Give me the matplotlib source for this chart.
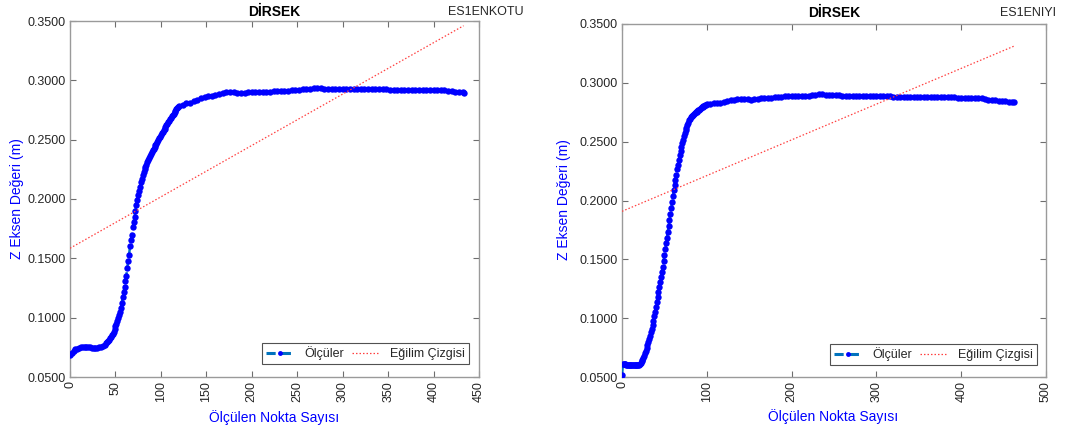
import numpy as np
import matplotlib
matplotlib.use("Agg")
import matplotlib.pyplot as plt
from matplotlib.lines import Line2D

plt.rcParams['font.family'] = ['Liberation Sans', 'DejaVu Sans']

# ---------------- data ----------------
left_x = list(range(0, 40, 2)) + list(range(40, 121)) + list(range(124, 433, 4)) + [433]
left_y = [
    # 0..38 step 2
    0.0685, 0.0705, 0.0720, 0.0732, 0.0740, 0.0746, 0.0750, 0.0752, 0.0753, 0.0752,
    0.0751, 0.0749, 0.0747, 0.0746, 0.0746, 0.0747, 0.0750, 0.0755, 0.0762, 0.0772,
    # 40..120 step 1
    0.0785, 0.0792, 0.0800, 0.0812, 0.0825, 0.0838, 0.0852, 0.0866, 0.0880, 0.0905,
    0.0928, 0.0950, 0.0975, 0.0998, 0.1020, 0.1045, 0.1085, 0.1125, 0.1170, 0.1215,
    0.1260, 0.1305, 0.1355, 0.1420, 0.1480, 0.1530, 0.1600, 0.1655, 0.1700, 0.1760,
    0.1810, 0.1850, 0.1900, 0.1950, 0.1990, 0.2030, 0.2070, 0.2105, 0.2140, 0.2170,
    0.2200, 0.2225, 0.2250, 0.2270, 0.2290, 0.2310, 0.2328, 0.2345, 0.2362, 0.2378,
    0.2395, 0.2410, 0.2425, 0.2438, 0.2452, 0.2466, 0.2480, 0.2495, 0.2510, 0.2524,
    0.2538, 0.2552, 0.2566, 0.2580, 0.2593, 0.2606, 0.2620, 0.2634, 0.2648, 0.2660,
    0.2672, 0.2684, 0.2696, 0.2708, 0.2720, 0.2730, 0.2742, 0.2755, 0.2765, 0.2775,
    0.2782,
    # 124..432 step 4
    0.2795, 0.2806, 0.2813, 0.2822, 0.2835, 0.2850, 0.2858, 0.2865, 0.2872, 0.2878,
    0.2885, 0.2892, 0.2898, 0.2901, 0.2899, 0.2897, 0.2897, 0.2897, 0.2898, 0.2898,
    0.2899, 0.2899, 0.2900, 0.2902, 0.2905, 0.2907, 0.2909, 0.2911, 0.2912, 0.2913,
    0.2916, 0.2920, 0.2922, 0.2923, 0.2925, 0.2929, 0.2933, 0.2934, 0.2932, 0.2930,
    0.2929, 0.2929, 0.2928, 0.2927, 0.2927, 0.2926, 0.2926, 0.2927, 0.2927, 0.2927,
    0.2928, 0.2928, 0.2927, 0.2926, 0.2926, 0.2925, 0.2923, 0.2922, 0.2921, 0.2921,
    0.2920, 0.2920, 0.2919, 0.2919, 0.2920, 0.2921, 0.2921, 0.2919, 0.2918, 0.2918,
    0.2919, 0.2918, 0.2916, 0.2913, 0.2908, 0.2903, 0.2900, 0.2898,
    # 433
    0.2897,
]
left_trend_x = [0, 433]
left_trend_y = [0.1585, 0.3460]

right_x = list(range(0, 101)) + list(range(104, 461, 4)) + [462]
right_y = [
    # 0..19
    0.0515, 0.0613, 0.0612, 0.0610, 0.0607, 0.0605, 0.0603, 0.0602, 0.0601, 0.0600,
    0.0599, 0.0598, 0.0598, 0.0598, 0.0598, 0.0598, 0.0599, 0.0600, 0.0601, 0.0603,
    # 20..100
    0.0605, 0.0612, 0.0620, 0.0632, 0.0645, 0.0662, 0.0680, 0.0700, 0.0722, 0.0745,
    0.0770, 0.0797, 0.0825, 0.0852, 0.0880, 0.0910, 0.0943, 0.0978, 0.1015, 0.1055,
    0.1095, 0.1138, 0.1180, 0.1222, 0.1265, 0.1308, 0.1350, 0.1393, 0.1435, 0.1485,
    0.1535, 0.1585, 0.1635, 0.1685, 0.1735, 0.1785, 0.1835, 0.1885, 0.1935, 0.1985,
    0.2040, 0.2085, 0.2130, 0.2175, 0.2220, 0.2265, 0.2305, 0.2345, 0.2385, 0.2420,
    0.2455, 0.2485, 0.2515, 0.2545, 0.2572, 0.2598, 0.2620, 0.2642, 0.2662, 0.2680,
    0.2695, 0.2706, 0.2715, 0.2722, 0.2730, 0.2737, 0.2743, 0.2749, 0.2755, 0.2761,
    0.2767, 0.2773, 0.2779, 0.2785, 0.2791, 0.2797, 0.2802, 0.2806, 0.2810, 0.2814,
    0.2817,
    # 104..460 step 4
    0.2822, 0.2825, 0.2827, 0.2830, 0.2835, 0.2842, 0.2850, 0.2858, 0.2862, 0.2862,
    0.2860, 0.2859, 0.2858, 0.2860, 0.2864, 0.2868, 0.2870, 0.2872, 0.2874, 0.2877,
    0.2880, 0.2882, 0.2884, 0.2885, 0.2886, 0.2886, 0.2888, 0.2887, 0.2885, 0.2886,
    0.2893, 0.2900, 0.2905, 0.2903, 0.2899, 0.2897, 0.2896, 0.2895, 0.2893, 0.2892,
    0.2890, 0.2889, 0.2888, 0.2887, 0.2886, 0.2886, 0.2885, 0.2885, 0.2884, 0.2884,
    0.2885, 0.2886, 0.2885, 0.2884, 0.2883, 0.2882, 0.2882, 0.2883, 0.2882, 0.2880,
    0.2878, 0.2877, 0.2877, 0.2876, 0.2876, 0.2877, 0.2878, 0.2877, 0.2876, 0.2876,
    0.2877, 0.2877, 0.2876, 0.2875, 0.2874, 0.2873, 0.2872, 0.2871, 0.2872, 0.2873,
    0.2870, 0.2864, 0.2858, 0.2853, 0.2850, 0.2848, 0.2846, 0.2843, 0.2840, 0.2836,
    # 462
    0.2833,
]
right_trend_x = [0, 462]
right_trend_y = [0.1908, 0.3311]

y_ticks = [0.05, 0.10, 0.15, 0.20, 0.25, 0.30, 0.35]
left_xticks = [0, 50, 100, 150, 200, 250, 300, 350, 400, 450]
right_xticks = [0, 100, 200, 300, 400, 500]

title_text = "DİRSEK"
left_tag = "ES1ENKOTU"
right_tag = "ES1ENIYI"
xlabel_text = "Ölçülen Nokta Sayısı"
ylabel_text = "Z Eksen Değeri (m)"
legend_labels = ["Ölçüler", "Eğilim Çizgisi"]

# ---------------- figure ----------------
W, H = 1069, 437
fig = plt.figure(figsize=(W / 100, H / 100), dpi=100)

def px_axes(x0, y0, x1, y1):
    return fig.add_axes([x0 / W, 1 - y1 / H, (x1 - x0) / W, (y1 - y0) / H])

LINE_C = '#0072BD'
MARK_C = '#0000FF'
TREND_C = '#FF4040'
TXT_C = '#262626'


def draw(ax, x, y, tx, ty, xlim, xticks, leg_anchor):
    ax.plot(x, y, linestyle='--', color=LINE_C, linewidth=1.8,
            marker='o', markersize=4.6, markerfacecolor=MARK_C,
            markeredgecolor=MARK_C, markeredgewidth=0, zorder=3)
    ax.plot(tx, ty, linestyle=(0, (1.2, 1.6)), color=TREND_C, linewidth=0.9, zorder=4)
    ax.set_xlim(*xlim)
    ax.set_ylim(0.05, 0.35)
    ax.set_xticks(xticks)
    ax.set_yticks(y_ticks)
    ax.set_yticklabels(['%.4f' % v for v in y_ticks])
    ax.set_xticklabels([str(v) for v in xticks], rotation=90)
    ax.tick_params(direction='in', length=4, width=0.8, color='#6e6e6e',
                   labelsize=9, labelcolor=TXT_C, top=True, right=True, pad=3)
    for s in ax.spines.values():
        s.set_color('#9a9a9a')
        s.set_linewidth(1.0)
    handles = [
        Line2D([], [], linestyle='--', color=LINE_C, linewidth=2.2, marker='o',
               markersize=3.5, markerfacecolor=MARK_C, markeredgecolor=MARK_C,
               markeredgewidth=0, dashes=(3.0, 2.0)),
        Line2D([], [], linestyle=(0, (1.2, 1.6)), color=TREND_C, linewidth=0.9),
    ]
    leg = ax.legend(handles, legend_labels, ncol=2, loc='lower right',
                    bbox_to_anchor=leg_anchor, borderaxespad=0, fontsize=9,
                    frameon=True, fancybox=False, handlelength=2.3,
                    columnspacing=0.6, handletextpad=0.8, borderpad=0.3)
    leg.get_frame().set_edgecolor('#262626')
    leg.get_frame().set_linewidth(0.8)
    for t in leg.get_texts():
        t.set_color(TXT_C)


axL = px_axes(70, 21, 479, 377)
draw(axL, left_x, left_y, left_trend_x, left_trend_y, (0, 450), left_xticks,
     (0.9756, 0.036))
axR = px_axes(622, 24, 1046, 377)
draw(axR, right_x, right_y, right_trend_x, right_trend_y, (0, 500), right_xticks,
     (0.9788, 0.034))

def ftext(x, y, s, **kw):
    fig.text(x / W, 1 - y / H, s, **kw)

ftext(274, 12, title_text, ha='center', va='center', fontsize=10, fontweight='bold', color='black')
ftext(834, 13, title_text, ha='center', va='center', fontsize=10, fontweight='bold', color='black')
ftext(448, 12, left_tag, ha='left', va='center', fontsize=9, color=TXT_C)
ftext(1000, 13, right_tag, ha='left', va='center', fontsize=9, color=TXT_C)
ftext(274, 418, xlabel_text, ha='center', va='center', fontsize=10, color='#0000FF')
ftext(833, 417, xlabel_text, ha='center', va='center', fontsize=10, color='#0000FF')
ftext(17, 199, ylabel_text, ha='center', va='center', rotation=90, fontsize=10, color='#0000FF')
ftext(564, 200, ylabel_text, ha='center', va='center', rotation=90, fontsize=10, color='#0000FF')

fig.savefig('out.png', dpi=100)
